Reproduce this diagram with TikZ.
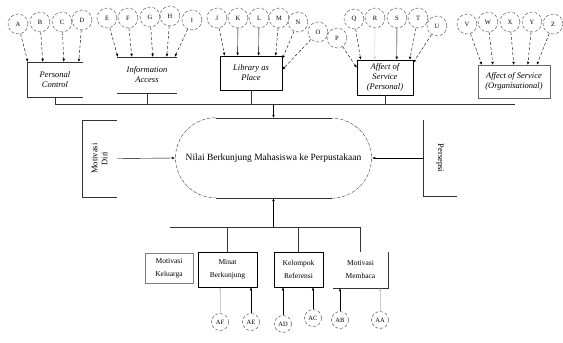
\documentclass[tikz,border=0pt]{standalone}
\usepackage{fontspec}
\setmainfont{Liberation Serif}
\usetikzlibrary{arrows.meta, positioning, shapes.misc}

\begin{document}
\begin{tikzpicture}[
		x=1pt, y=-1pt,
		% gaya lingkaran indikator
		lingkaran/.style={draw=black!75, densely dashed, circle, minimum size=20pt, inner sep=0pt, font=\fontsize{6.5}{7}\selectfont},
		lingkaranKecil/.style={lingkaran, minimum size=17pt},
		% gaya kotak
		kotakAtas/.style={align=center, inner sep=0pt, font=\fontsize{8.5}{10}\selectfont\itshape},
		kotakBawah/.style={align=center, inner sep=0pt, font=\fontsize{7.5}{13}\selectfont},
		kotakSamping/.style={align=center, inner sep=0pt, font=\fontsize{8.5}{10}\selectfont},
		garis/.style={thin, black!80},
		panah/.style={-{Latex[length=3pt,width=2.6pt]}, densely dashed, thin},
		panahPenuh/.style={-{Latex[length=3pt,width=2.6pt]}, thin},
		panahSamar/.style={-{Latex[length=3pt,width=2.6pt]}, thin, black!20},
		]
		
		\useasboundingbox (0,0) rectangle (563,343);
		
		% kotak atas
		\node[kotakAtas, minimum width=56pt, minimum height=35pt] (pc) at (55,79.5) {Personal\\Control};
		\draw[garis] (pc.north east) -- (pc.north west) -- (pc.south west) -- (pc.south east);
		
		\node[kotakAtas, minimum width=60pt, minimum height=36pt] (ia) at (147,75) {Information\\Access};
		\draw[garis] (ia.north west) -- (ia.north east);
		\draw[garis] (ia.south west) -- (ia.south east);
		
		\node[kotakAtas, draw, thick, minimum width=62pt, minimum height=34pt] (lp) at (251,73) {Library as\\Place};
		\node[kotakAtas, draw, semithick, minimum width=56pt, minimum height=35pt] (asp) at (385,77.5) {Affect of\\Service\\(Personal)};
		\node[kotakAtas, draw=black!60, minimum width=72pt, minimum height=33pt] (aso) at (514,81.5) {Affect of Service\\(Organisational)};
		
		% lingkaran atas
		\node[lingkaran] (cA) at (18,24) {A};
		\node[lingkaran] (cB) at (40,22) {B};
		\node[lingkaran] (cC) at (62,22) {C};
		\node[lingkaran] (cD) at (82,20) {D};
		
		\node[lingkaran] (cE) at (107,18) {E};
		\node[lingkaran] (cF) at (128,18) {F};
		\node[lingkaran] (cG) at (150,17) {G};
		\node[lingkaran] (cH) at (170,16) {H};
		\node[lingkaran] (cI) at (192,20) {I};
		
		\node[lingkaran] (cJ) at (217,18) {J};
		\node[lingkaran] (cK) at (238,18) {K};
		\node[lingkaran] (cL) at (259,18) {L};
		\node[lingkaran] (cM) at (279,18) {M};
		\node[lingkaran] (cN) at (298,22) {N};
		\node[lingkaran] (cO) at (318,32) {O};
		\node[lingkaran] (cP) at (337,38) {P};
		
		\node[lingkaran] (cQ) at (354,19) {Q};
		\node[lingkaran] (cR) at (375,18) {R};
		\node[lingkaran] (cS) at (397,18) {S};
		\node[lingkaran] (cT) at (418,18) {T};
		\node[lingkaran] (cU) at (437,26) {U};
		
		\node[lingkaran] (cV) at (467,24) {V};
		\node[lingkaran] (cW) at (488,22) {W};
		\node[lingkaran] (cX) at (510,22) {X};
		\node[lingkaran] (cY) at (532,22) {Y};
		\node[lingkaran] (cZ) at (553,24) {Z};
		
		% panah atas
		\draw[panah] (cA) -- ([xshift=1pt]pc.north west);
		\draw[panah] (cB) -- ([xshift=16pt]pc.north west);
		\draw[panah] (cC) -- ([xshift=37pt]pc.north west);
		\draw[panah] (cD) -- ([xshift=52pt]pc.north west);
		
		\draw[panah] (cE) -- ([xshift=1pt]ia.north west);
		\draw[panah] (cF) -- ([xshift=15pt]ia.north west);
		\draw[panah] (cG) -- ([xshift=36pt]ia.north west);
		\draw[panah] (cH) -- ([xshift=50pt]ia.north west);
		\draw[panah] (cI) -- ([xshift=58pt]ia.north west);
		
		\draw[panah] (cJ) -- ([xshift=5pt]lp.north west);
		\draw[panahPenuh] (cK) -- ([xshift=18pt]lp.north west);
		\draw[panahPenuh] (cL) -- ([xshift=39pt]lp.north west);
		\draw[panah] (cM) -- ([xshift=56pt]lp.north west);
		\draw[panah] (cN) -- ([yshift=-3pt]lp.north east);
		\draw[panah] (cO) -- ([yshift=-14pt]lp.north east);
		\draw[panah] (cP) -- ([yshift=-8pt]asp.north west);
		
		\draw[panah] (cQ) -- ([xshift=4pt]asp.north west);
		\draw[panahSamar] (cR) -- ([xshift=18pt]asp.north west);
		\draw[panahPenuh] (cS) -- ([xshift=40pt]asp.north west);
		\draw[panah] (cT) -- ([xshift=53pt]asp.north west);
		\draw[panah] (cU) -- ([yshift=-3pt]asp.north east);
		
		\draw[panah] (cV) -- ([xshift=4pt]aso.north west);
		\draw[panah] (cW) -- ([xshift=15pt]aso.north west);
		\draw[panah] (cX) -- ([xshift=36pt]aso.north west);
		\draw[panah] (cY) -- ([xshift=50pt]aso.north west);
		\draw[panah] (cZ) -- ([xshift=59pt]aso.north west);
		
		% konstruk utama
		\node[rounded rectangle, minimum width=197pt, minimum height=80pt, inner sep=0pt, font=\fontsize{9.5}{11}\selectfont] (nilai) at (273.5,158) {Nilai Berkunjung Mahasiswa ke Perpustakaan};
		\draw[garis] ([xshift=-58pt]nilai.north) -- ([xshift=58pt]nilai.north);
		\draw[garis] ([xshift=-58pt]nilai.south) -- ([xshift=58pt]nilai.south);
		\draw[garis, densely dashdotted] ([xshift=-58pt]nilai.north) arc[start angle=90, end angle=270, radius=40pt];
		\draw[garis, densely dashdotted] ([xshift=58pt]nilai.south) arc[start angle=-90, end angle=90, radius=40pt];
		
		% garis penghubung atas
		\coordinate (busAtasKiri) at (55,104);
		\coordinate (busAtasKanan) at (515,104);
		\draw[garis] (busAtasKiri) -- (busAtasKanan);
		\draw[garis] (pc.south) -- (pc.south |- busAtasKiri);
		\draw[garis] (ia.south) -- (ia.south |- busAtasKiri);
		\draw[garis] (lp.south) -- (lp.south |- busAtasKiri);
		\draw[garis] (asp.south) -- (asp.south |- busAtasKiri);
		\draw[panahPenuh] (nilai.north |- busAtasKiri) -- (nilai.north);
		
		% samping
		\node[kotakSamping, rotate=90, minimum width=77pt, minimum height=35pt] (md) at (99.5,158.5) {Motivasi\\Diri};
		\draw[garis] (md.south east) -- (md.north east) -- (md.north west) -- (md.south west);
		\draw[panahPenuh] (md.south) -- (nilai.west);
		
		\node[kotakSamping, rotate=-90, minimum width=76pt, minimum height=34pt] (ps) at (440,158) {Persepsi};
		\draw[garis] (ps.south west) -- (ps.south east) -- (ps.north east);
		\draw[panahPenuh] (ps.south) -- (nilai.east);
		
		% kotak bawah
		\node[kotakBawah, draw=black!50, minimum width=48pt, minimum height=30pt] (mk) at (169,268) {Motivasi\\Keluarga};
		\node[kotakBawah, draw, semithick, minimum width=59pt, minimum height=35pt] (minat) at (227.5,269.5) {Minat\\Berkunjung};
		\node[kotakBawah, draw, semithick, minimum width=49pt, minimum height=35pt] (kr) at (298.5,269.5) {Kelompok\\Referensi};
		\node[kotakBawah, minimum width=55pt, minimum height=36pt] (mm) at (360.5,270) {Motivasi\\Membaca};
		\draw[garis] (mm.north east) -- (mm.south east) -- (mm.south west);
		
		% garis penghubung bawah
		\coordinate (busBawahKiri) at (170,227);
		\draw[garis] (busBawahKiri) -- (mm.north |- busBawahKiri);
		\draw[panahPenuh] (nilai.south |- busBawahKiri) -- (nilai.south);
		\draw[garis] (minat.north |- busBawahKiri) -- (minat.north);
		\draw[garis] (kr.north |- busBawahKiri) -- (kr.north);
		\draw[garis] (mm.north |- busBawahKiri) -- (mm.north);
		
		% lingkaran bawah
		\node[lingkaranKecil] (cAF) at (220,322) {AF};
		\node[lingkaranKecil] (cAE) at (251,322) {AE};
		\node[lingkaranKecil] (cAD) at (283,324) {AD};
		\node[lingkaranKecil] (cAC) at (313,318) {AC};
		\node[lingkaranKecil] (cAB) at (340,320) {AB};
		\node[lingkaranKecil] (cAA) at (380,320) {AA};
		
		\draw[panahSamar] (cAF) -- (cAF |- minat.south);
		\draw[panahPenuh] (cAE) -- (cAE |- minat.south);
		\draw[panahPenuh] (cAD) -- (cAD |- kr.south);
		\draw[panahPenuh] (cAC) -- (cAC |- kr.south);
		\draw[panahPenuh] (cAB) -- (cAB |- mm.south);
		\draw[panahSamar] (cAA) -- (cAA |- mm.south);
\end{tikzpicture}
\end{document}
